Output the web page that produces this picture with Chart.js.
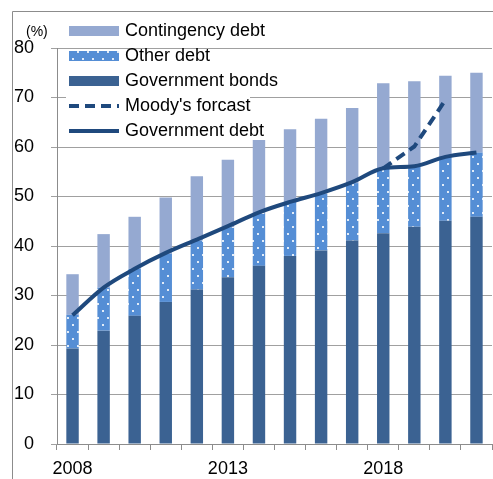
<!DOCTYPE html>
<html>
<head>
<meta charset="utf-8">
<script src="https://cdn.jsdelivr.net/npm/chart.js@4.4.1/dist/chart.umd.min.js"></script>
<style>
  html, body { margin: 0; padding: 0; background: #fff; }
  #wrap { position: relative; width: 493px; height: 479px; }
</style>
</head>
<body>
<div id="wrap"><canvas id="debtChart"></canvas></div>
<script>
const years = ['2008', '2009', '2010', '2011', '2012', '2013', '2014',
  '2015', '2016', '2017', '2018', '2019', '2020', '2021'];
const shownYears = ['2008', '2013', '2018'];

// stacked bar segments (% of GDP)
const governmentBonds = [19.3, 22.9, 25.9, 28.7, 31.2, 33.7, 36.0, 38.0, 39.1, 41.1, 42.6, 43.9, 45.1, 45.9];
const otherDebt = [6.8, 8.7, 9.5, 9.7, 9.9, 10.1, 10.6, 10.9, 11.4, 11.6, 13.1, 12.1, 12.9, 13.0];
const contingencyDebt = [8.2, 10.8, 10.5, 11.4, 13.0, 13.6, 14.8, 14.7, 15.2, 15.2, 17.2, 17.3, 16.4, 16.1];

// lines
const governmentDebt = [26.0, 31.6, 35.4, 38.6, 41.3, 44.0, 46.8, 48.9, 50.7, 52.9, 55.7, 56.1, 58.0, 58.9];
const moodysForecast = [null, null, null, null, null, null, null, null, null, null, 55.7, 60.1, 69.5, null];

const yTicks = [0, 10, 20, 30, 40, 50, 60, 70, 80];

const FONT = '"Liberation Sans", Arial, sans-serif';
const darkLine = '#1F497D';

// white dots on blue for "Other debt"
function dotPattern() {
  const c = document.createElement('canvas');
  c.width = 10;
  c.height = 14;
  const p = c.getContext('2d');
  p.fillStyle = '#558ED5';
  p.fillRect(0, 0, 10, 14);
  p.fillStyle = '#e2ecf8';
  p.fillRect(2, 2, 2, 2);
  p.fillRect(7, 9, 2, 2);
  return p.createPattern(c, 'repeat');
}
const otherFill = dotPattern();

const decor = {
  id: 'decor',
  beforeDraw(chart) {
    const ctx = chart.ctx;
    ctx.save();
    ctx.fillStyle = '#fff';
    ctx.fillRect(0, 0, chart.width, chart.height);
    ctx.strokeStyle = '#8c8c8c';
    ctx.lineWidth = 1;
    ctx.beginPath();
    ctx.moveTo(12.5, chart.height);
    ctx.lineTo(12.5, 11.5);
    ctx.lineTo(chart.width, 11.5);
    ctx.stroke();
    ctx.restore();
  },
  afterDraw(chart) {
    const ctx = chart.ctx;
    ctx.save();
    ctx.fillStyle = '#000';
    ctx.font = '14px ' + FONT;
    ctx.textBaseline = 'middle';
    ctx.textAlign = 'left';
    ctx.fillText('(%)', 26, 32);

    // white box behind the line entries
    ctx.fillStyle = '#fff';
    ctx.fillRect(66, 93, 184, 51);

    const ds = chart.data.datasets;
    const order = [2, 1, 0, 3, 4];
    const rows = [31, 56, 81, 106, 131];
    ctx.font = '18px ' + FONT;
    order.forEach((i, r) => {
      const d = ds[i];
      const y = rows[r];
      if (d.type === 'line') {
        ctx.strokeStyle = d.borderColor;
        ctx.lineWidth = d.borderWidth;
        ctx.setLineDash(d.borderDash || []);
        ctx.beginPath();
        ctx.moveTo(69, y);
        ctx.lineTo(119, y);
        ctx.stroke();
        ctx.setLineDash([]);
      } else {
        ctx.fillStyle = d.backgroundColor;
        ctx.fillRect(69, y - 5, 50, 10);
      }
      ctx.fillStyle = '#000';
      ctx.fillText(d.label, 125, y);
    });
    ctx.restore();
  }
};

const ctx = document.getElementById('debtChart').getContext('2d');
new Chart(ctx, {
  type: 'bar',
  data: {
    labels: years,
    datasets: [
      { label: 'Government bonds', data: governmentBonds, backgroundColor: '#3B6292', stack: 'bars', order: 1 },
      { label: 'Other debt', data: otherDebt, backgroundColor: otherFill, stack: 'bars', order: 1 },
      { label: 'Contingency debt', data: contingencyDebt, backgroundColor: '#95A9D1', stack: 'bars', order: 1 },
      {
        type: 'line', label: "Moody's forcast", data: moodysForecast, stack: 'moody', order: 0,
        borderColor: darkLine, borderWidth: 4, borderDash: [10, 6], pointRadius: 0, tension: 0
      },
      {
        type: 'line', label: 'Government debt', data: governmentDebt, stack: 'gov', order: 0,
        borderColor: darkLine, borderWidth: 4, pointRadius: 0, cubicInterpolationMode: 'monotone'
      }
    ]
  },
  options: {
    responsive: true,
    maintainAspectRatio: false,
    animation: false,
    datasets: {
      bar: { barPercentage: 0.4, categoryPercentage: 1 }
    },
    layout: { padding: { left: 0, right: 1, top: 48, bottom: 0 } },
    plugins: {
      legend: { display: false },
      tooltip: { enabled: false }
    },
    scales: {
      x: {
        stacked: true,
        afterFit(scale) { scale.height = 35; },
        grid: { offset: true, drawOnChartArea: false, drawTicks: true, tickLength: 6, color: '#8c8c8c' },
        border: { color: '#8c8c8c' },
        ticks: {
          autoSkip: false,
          maxRotation: 0,
          padding: 8,
          color: '#000',
          font: { family: FONT, size: 18 },
          callback(value) {
            const lbl = this.getLabelForValue(value);
            return shownYears.includes(lbl) ? lbl : '';
          }
        }
      },
      y: {
        stacked: true,
        min: yTicks[0],
        max: yTicks[yTicks.length - 1],
        afterFit(scale) { scale.width = 57; },
        afterBuildTicks(scale) { scale.ticks = yTicks.map(v => ({ value: v })); },
        grid: { color: '#a0a0a0', tickLength: 6 },
        border: { color: '#8c8c8c' },
        ticks: {
          padding: 17,
          color: '#000',
          font: { family: FONT, size: 18 }
        }
      }
    }
  },
  plugins: [decor]
});
</script>
</body>
</html>
